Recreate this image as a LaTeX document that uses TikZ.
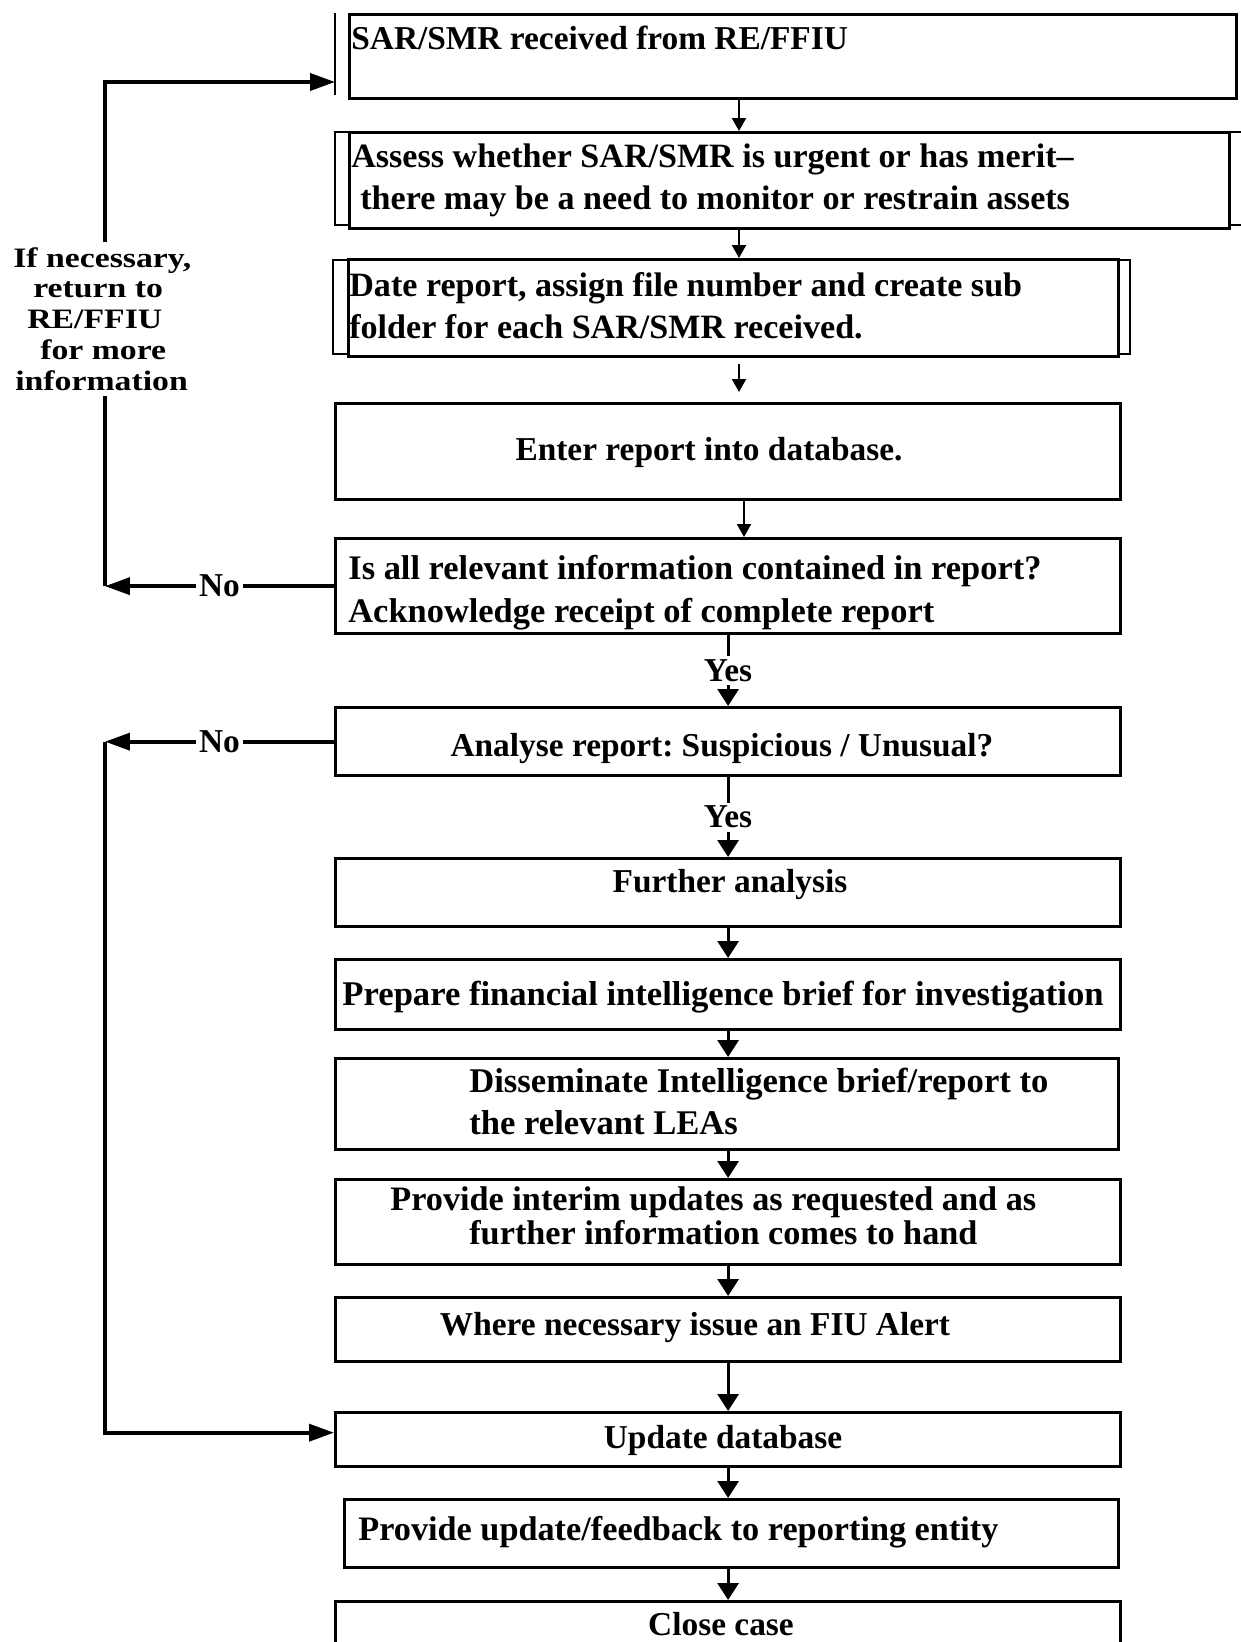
\documentclass[tikz,border=0pt]{standalone}
\usepackage{fontspec}
\setmainfont{Liberation Serif}
\newfontfamily\widefont{Liberation Serif}[FakeStretch=1.2]
\usetikzlibrary{arrows.meta, positioning, calc}
\frenchspacing

\begin{document}
\begin{tikzpicture}[
    x=0.02cm, y=-0.02cm,
    box/.style={rectangle, draw=black, line width=1.9pt, fill=white,
        inner sep=0pt, anchor=north west, minimum width=15.7cm},
    frame/.style={draw=black, line width=0.7pt},
    txt/.style={font=\fontsize{19}{23.6}\selectfont\bfseries, inner sep=0pt,
        align=left, anchor=base west},
    ctxt/.style={txt, anchor=base},
    arr/.style={-{Triangle[length=0.34cm, width=0.42cm]}, line width=1.7pt, draw=black},
    arrs/.style={-{Triangle[length=0.26cm, width=0.28cm]}, line width=1.3pt, draw=black},
    back/.style={-{Triangle[length=0.5cm, width=0.34cm]}, line width=2.1pt, draw=black},
    lbl/.style={font=\fontsize{19}{23.6}\selectfont\bfseries, fill=white, inner sep=2pt}
]
\useasboundingbox (0,0) rectangle (1240,1642);

%% Guide coordinates
\coordinate (spine)  at (739,0);
\coordinate (spineb) at (744,0);
\coordinate (rail)   at (105,0);

%% Double-edged boxes (top)
%% (multi-line texts sit on the baseline of their last line)
\draw[frame] (335,13) -- (335,95);
\coordinate (recv-in) at (335,82);
\node[box, minimum width=17.74cm, minimum height=1.68cm] (recv) at (348,13) {};
\node[txt] (recv-t) at (351,50) {SAR/SMR received from RE/FFIU};

\draw[frame] (335,132) rectangle (1245,225);
\node[box, minimum width=17.6cm, minimum height=1.92cm] (assess) at (348,131) {};
\node[txt, font=\fontsize{19.4}{24}\selectfont\bfseries] (assess-t) at (351,210)
    {Assess whether SAR/SMR is urgent or has merit--\\
     \hspace*{0.18cm}there may be a need to monitor or restrain assets};

\draw[frame] (333,260) rectangle (1130,354);
\node[box, minimum width=15.4cm, minimum height=1.94cm] (date) at (347,258) {};
\node[txt, font=\fontsize{19.4}{23.6}\selectfont\bfseries] (date-t) at (349,338)
    {Date report, assign file number and create sub\\
     folder for each SAR/SMR received.};

%% Single boxes
\node[box, minimum height=1.92cm] (enter) at (334,402) {};
\node[ctxt] (enter-t) at (709,460) {Enter report into database.};

\node[box, minimum height=1.9cm] (check) at (334,537) {};
\node[txt, font=\fontsize{19.6}{24}\selectfont\bfseries] (check-t) at (348,622)
    {Is all relevant information contained in report?\\
     Acknowledge receipt of complete report};

\node[box, minimum height=1.36cm] (analyse) at (334,706) {};
\node[ctxt] (analyse-t) at (722,756) {Analyse report: Suspicious / Unusual?};

\node[box, minimum height=1.36cm] (further) at (334,857) {};
\node[ctxt] (further-t) at (730,892) {Further analysis};

\node[box, minimum height=1.4cm] (prepare) at (334,958) {};
\node[ctxt, font=\fontsize{19.7}{23.6}\selectfont\bfseries] (prepare-t) at (723,1005)
    {Prepare financial intelligence brief for investigation};

\node[box, minimum width=15.66cm, minimum height=1.82cm] (dissem) at (334,1057) {};
\node[txt, font=\fontsize{19.7}{23.4}\selectfont\bfseries] (dissem-t) at (469,1134)
    {Disseminate Intelligence brief/report to\\
     the relevant LEAs};

\node[box, minimum height=1.7cm] (interim) at (334,1178) {};
\node[txt, font=\fontsize{19.5}{17.7}\selectfont\bfseries] (interim-t) at (390,1244)
    {Provide interim updates as requested and as\\
     \hspace*{1.58cm}further information comes to hand};

\node[box, minimum height=1.28cm] (alert) at (334,1296) {};
\node[ctxt] (alert-t) at (695,1335) {Where necessary issue an FIU Alert};

\node[box, minimum height=1.08cm] (update) at (334,1411) {};
\node[ctxt] (update-t) at (723,1448) {Update database};

\node[box, minimum width=15.48cm, minimum height=1.36cm] (feedback) at (343,1498) {};
\node[txt, font=\fontsize{19.5}{23.6}\selectfont\bfseries] (feedback-t) at (358,1540)
    {Provide update/feedback to reporting entity};

\node[box, minimum height=1.4cm] (close) at (334,1600) {};
\node[ctxt] (close-t) at (721,1635) {Close case};

%% ── Main flow ────────────────────────────────────────────────────
\draw[arrs] (recv.south -| spine) -- (assess.north -| spine);
\draw[arrs] (assess.south -| spine) -- (date.north -| spine);
\draw[arrs, shorten <=3pt, shorten >=0.2cm] (date.south -| spine) -- (enter.north -| spine);
\draw[arrs] (enter.south -| spineb) -- (check.north -| spineb);

\draw[arr] (check.south) -- node[lbl] {Yes} (analyse.north);
\draw[arr] (analyse.south) -- node[lbl] {Yes} (further.north);
\draw[arr] (further.south) -- (prepare.north);
\draw[arr] (prepare.south) -- (dissem.north -| prepare.south);
\draw[arr] (dissem.south -| prepare.south) -- (interim.north);
\draw[arr] (interim.south) -- (alert.north);
\draw[arr] (alert.south) -- (update.north);
\draw[arr] (update.south) -- (feedback.north -| update.south);
\draw[arr] (feedback.south -| update.south) -- (close.north);

%% ── Return loops ─────────────────────────────────────────────────
\draw[back] (check.west) -- node[lbl] {No} (check.west -| rail);
\draw[back] (check.west -| rail) -- (recv-in -| rail) -- (recv-in);

\draw[back] (analyse.west) -- node[lbl] {No} (analyse.west -| rail);
\draw[back] (analyse.west -| rail) -- ([yshift=0.14cm]update.west -| rail)
    -- ([yshift=0.14cm]update.west);

%% Loop note
\node[font=\widefont\bfseries\fontsize{16}{17.5}\selectfont, fill=white,
      inner xsep=0pt, inner ysep=3pt, align=left, anchor=base west] (ask) at (13,390)
    {If necessary,\\
     \hspace*{0.4cm}return to\\
     \hspace*{0.28cm}RE/FFIU\\
     \hspace*{0.54cm}for more\\
     \hspace*{0.04cm}information};

\end{tikzpicture}
\end{document}
